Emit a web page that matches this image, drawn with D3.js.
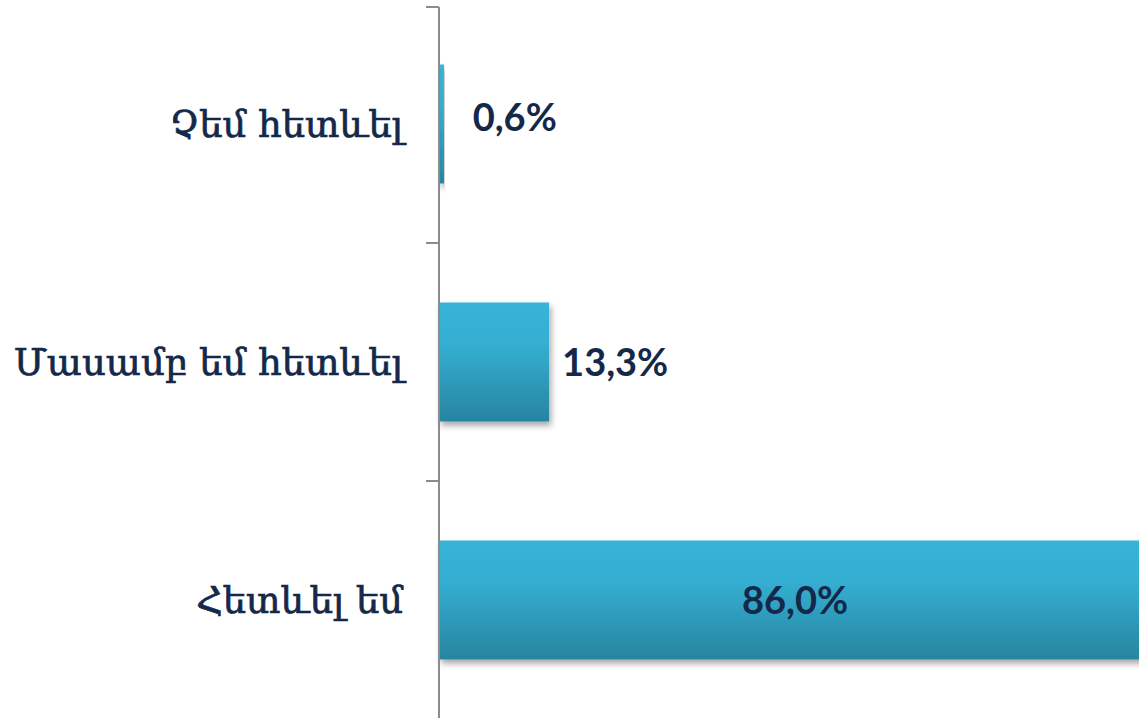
<!DOCTYPE html>
<html><head><meta charset="utf-8">
<script src="https://cdn.jsdelivr.net/npm/d3@7"></script>
<style>
html,body{margin:0;padding:0;background:#fff;overflow:hidden}
svg{display:block}
</style></head>
<body>
<svg id="chart" width="1139" height="718"></svg>
<script>
const categories = ["Չեմ հետևել", "Մասամբ եմ հետևել", "Հետևել եմ"];
const values = [0.6, 13.3, 86.0];
const valueLabels = ["0,6%", "13,3%", "86,0%"];

const W = 1139, H = 718;
const svg = d3.select("#chart");
const axisX = 439;

const x = d3.scaleLinear().domain([0, 100]).range([axisX, axisX + 828]);
const y = d3.scaleBand().domain(categories).range([5, 719]).paddingInner(0.5).paddingOuter(0.25);

const defs = svg.append("defs");
const grad = defs.append("linearGradient").attr("id", "barGrad").attr("x1", 0).attr("y1", 0).attr("x2", 0).attr("y2", 1);
grad.append("stop").attr("offset", "0%").attr("stop-color", "#37b4d8");
grad.append("stop").attr("offset", "35%").attr("stop-color", "#34aed1");
grad.append("stop").attr("offset", "100%").attr("stop-color", "#2785a0");
const f = defs.append("filter").attr("id", "shadow").attr("x", "-10%").attr("y", "-10%").attr("width", "130%").attr("height", "140%");
f.append("feDropShadow").attr("dx", 2).attr("dy", 4).attr("stdDeviation", 3).attr("flood-color", "#000").attr("flood-opacity", 0.35);

svg.append("g").selectAll("rect").data(categories).join("rect")
  .attr("x", x(0))
  .attr("y", d => y(d))
  .attr("width", (d, i) => x(values[i]) - x(0))
  .attr("height", y.bandwidth())
  .attr("fill", "url(#barGrad)")
  .attr("filter", "url(#shadow)");

// axis
const ax = svg.append("g").attr("transform", `translate(${axisX},0)`);
ax.append("line").attr("x1", 0).attr("x2", 0).attr("y1", 7).attr("y2", 718).attr("stroke", "#8c8c8c").attr("stroke-width", 2);
const step = y.step();
const boundaries = d3.range(categories.length + 1).map(i => y(categories[0]) - y.paddingOuter() * step + i * step);
ax.selectAll("line.tick").data(boundaries).join("line").attr("class", "tick")
  .attr("x1", -13).attr("x2", 0).attr("y1", d => Math.max(d, 7)).attr("y2", d => Math.max(d, 7))
  .attr("stroke", "#8c8c8c").attr("stroke-width", 2);

// category labels
svg.append("g").selectAll("text").data(categories).join("text")
  .attr("x", 403)
  .attr("y", d => y(d) + y.bandwidth() / 2)
  .attr("dy", "0.35em")
  .attr("text-anchor", "end")
  .attr("font-family", "'DejaVu Serif', serif")
  .attr("font-size", 37)
  .attr("fill", "#14284a")
  .attr("stroke", "#14284a")
  .attr("stroke-width", 0.7)
  .text(d => d);

// value labels
svg.append("g").selectAll("text").data(categories).join("text")
  .attr("x", (d, i) => values[i] > 50 ? (x(0) + x(values[i])) / 2 : Math.max(x(values[i]), x(2.5)) + 13)
  .attr("y", (d, i) => y(d) + y.bandwidth() / 2 - (values[i] < 5 ? 7 : 0))
  .attr("dy", "0.36em")
  .attr("text-anchor", (d, i) => values[i] > 50 ? "middle" : "start")
  .attr("font-family", "Lato, 'Open Sans', sans-serif")
  .attr("font-weight", "bold")
  .attr("font-size", 38)
  .attr("fill", "#14284a")
  .text((d, i) => valueLabels[i]);
</script>
</body></html>
